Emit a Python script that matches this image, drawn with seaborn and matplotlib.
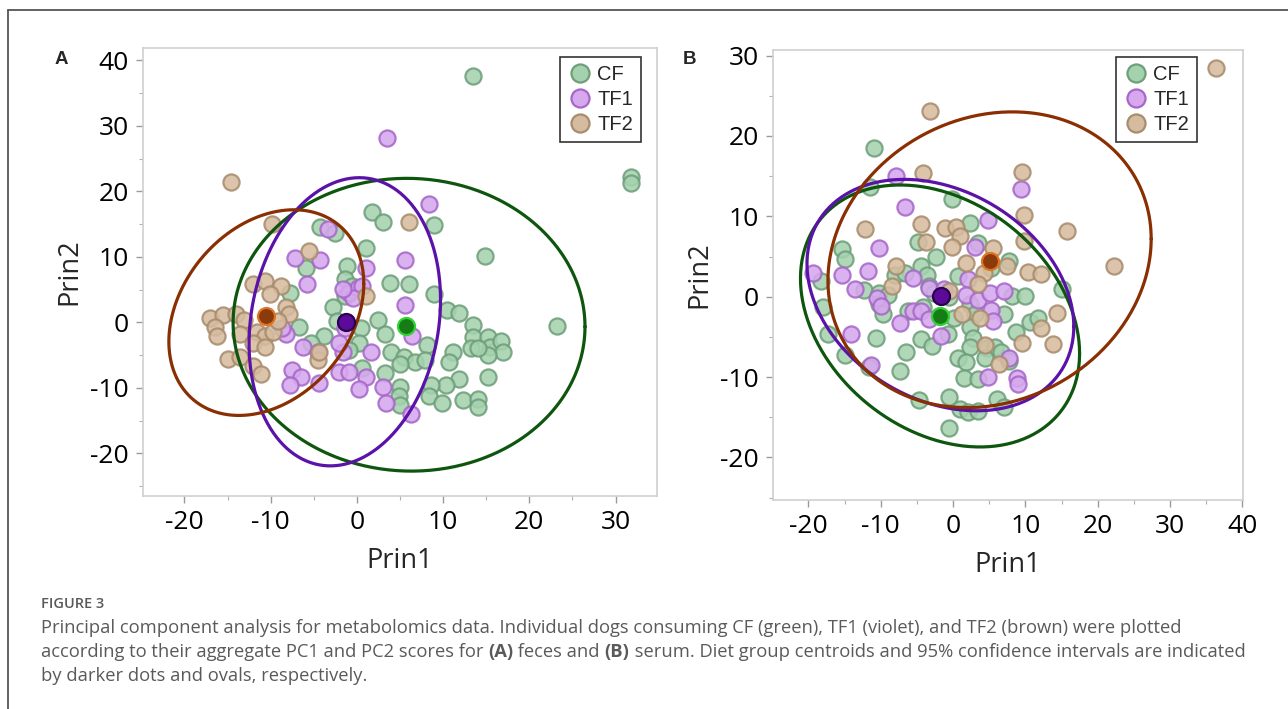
import numpy as np
import pandas as pd
import matplotlib
matplotlib.use("Agg")
import matplotlib.pyplot as plt
from matplotlib.lines import Line2D
from matplotlib.ticker import MultipleLocator
import seaborn as sns

sns.set_theme(style="white")
plt.rcParams['font.family'] = ['Open Sans', 'DejaVu Sans']

groups = ["CF", "TF1", "TF2"]

# ---------------- Panel A (feces) ----------------
a_cf_x = [13.5, 31.8, 31.8, 23.2, 14.9, 1.7, 3.0, 8.9, -4.3, -2.5, 1.1, -5.9, -1.1, -1.4, 3.8, 6.0, 8.9,
          -7.8, -2.8, 10.4, 11.8, 2.5, 13.5, -6.7, 0.5, 3.3, -3.8, -5.3, 4.0, 5.5, 6.7, 5.0, 8.1, 7.9,
          11.1, 10.7, 13.5, 13.2, 15.2, 15.4, 16.7, 16.9, 15.2, 14.1, 15.2, 11.8, 10.3, 8.6, 8.4, 9.9,
          12.3, 14.0, 14.0, 5.0, 4.9, 5.0, 3.3, 0.6, 0.3, -0.9, -1.4, -0.6, -2.3]
a_cf_y = [37.7, 22.2, 21.3, -0.5, 10.2, 16.8, 15.3, 14.8, 14.5, 13.7, 11.3, 8.3, 8.6, 6.7, 6.0, 5.9, 4.3,
          4.5, 2.3, 1.9, 1.4, 0.3, -0.4, -0.7, -0.8, -1.7, -2.0, -3.1, -4.5, -5.3, -6.1, -6.4, -3.4, -5.8,
          -4.5, -6.1, -2.3, -3.9, -2.3, -3.7, -2.8, -4.5, -5.0, -3.9, -8.4, -8.6, -9.6, -9.5, -11.2, -12.3,
          -11.8, -11.7, -12.9, -9.9, -11.3, -12.6, -7.7, -6.9, -3.1, -4.2, 4.0, 5.6, 0.2]
a_tf1_x = [3.5, 8.4, -7.2, -4.3, 5.6, 1.1, -5.8, -0.9, 0.1, 0.6, 5.6, -0.4, 6.4, -8.2, -8.7, -6.2, -4.5,
           -1.6, 1.6, -7.5, -6.5, -7.8, -4.4, -2.1, -0.9, 1.0, 0.3, 3.0, 3.4, 6.3, -1.6, -1.4, -2.1, -3.3]
a_tf1_y = [28.1, 18.1, 9.9, 9.6, 9.5, 8.3, 5.8, 4.5, 5.3, 5.6, 2.7, 3.7, -2.0, -1.7, -0.9, -3.7, -4.5,
           -4.5, -4.5, -7.2, -8.3, -9.5, -9.2, -7.5, -7.5, -8.3, -10.2, -9.9, -12.3, -14.0, 5.1, -0.9, -3.1, 14.3]
a_tf2_x = [-14.6, 6.1, -9.9, -5.6, -12.1, -10.6, -8.8, -10.1, -8.2, -7.9, 1.1, -17.0, -15.5, -14.0, -13.1,
           -16.5, -16.2, -13.6, -11.6, -10.6, -9.7, -12.1, -10.6, -15.0, -13.6, -12.1, -11.1, -4.5, -4.4, -9.2]
a_tf2_y = [21.5, 15.3, 15.0, 10.9, 5.8, 6.3, 5.6, 4.3, 2.3, 1.3, 4.0, 0.7, 1.1, 1.3, 0.4,
           -0.7, -2.0, -1.7, -1.5, -2.0, -1.5, -3.1, -3.7, -5.6, -5.3, -6.6, -7.9, -5.8, -4.5, 0.2]
a_cent_x = [5.7, -1.3, -10.5]
a_cent_y = [-0.5, 0.0, 1.0]
# 95% ellipses: centre, half-extent in x and y, covariance term
a_ell_cx = [6.05, -1.4, -10.5]
a_ell_cy = [-0.35, 0.1, 1.5]
a_ell_sx = [20.4, 11.1, 11.3]
a_ell_sy = [22.35, 22.0, 15.7]
a_ell_sxy = [-6.0, 37.0, 50.0]

# ---------------- Panel B (serum) ----------------
b_cf_x = [-11.0, -11.5, -0.2, 2.4, -15.3, -15.0, -4.9, -2.3, 3.4, 7.8, 5.3, -18.2, -12.3, -10.3, -9.0, -10.2,
          -9.7, -8.0, -6.7, -4.5, -3.6, 0.7, -3.3, -2.7, 8.1, 9.9, 15.1, -18.0, -17.3, -14.9, -11.6, -10.6,
          -6.5, -7.4, -6.2, -4.2, -1.9, 0.1, -0.7, -4.5, -2.9, 2.4, 3.0, 2.4, 2.7, 2.4, 4.7, 5.8, 6.7, 4.4,
          7.8, 0.7, 1.8, 1.5, 3.4, 7.0, 8.7, 10.6, 11.7, -4.7, -0.5, 1.0, 2.1, 3.5, 6.1, 7.0, -0.6, -0.5]
b_cf_y = [18.5, 13.7, 12.2, 9.2, 5.9, 4.7, 6.8, 4.9, 6.7, 4.4, 3.6, 1.9, 0.8, 0.5, 0.2, -0.9,
          -2.2, 2.7, 2.9, 3.8, 2.7, 2.6, 1.3, 0.4, 0.1, 0.1, 1.0, -1.3, -4.6, -7.3, -8.7, -5.1,
          -6.9, -9.3, -1.8, -1.3, -2.4, -2.7, -4.7, -5.3, -6.1, -0.9, -2.2, -3.8, -5.1, -6.2, -6.4, -6.2, -6.9, -7.6,
          -8.0, -7.6, -8.1, -10.1, -10.3, -2.2, -4.4, -3.1, -2.7, -12.8, -12.5, -14.0, -14.4, -14.2, -12.7, -13.7, -16.4, 0.0]
b_tf1_x = [-7.9, 9.4, -6.6, -10.2, 4.9, 3.0, -19.3, -15.4, -11.7, -13.6, -10.5, -10.0, -5.6, -3.3, -1.3, 2.1,
           -5.6, -4.5, -3.3, -7.3, -1.6, -14.1, -11.3, 1.8, 3.5, 5.1, 5.3, 5.5, 7.0, 7.8, 4.9, 8.8, 9.0]
b_tf1_y = [15.0, 13.4, 11.2, 6.1, 9.6, 6.2, 3.0, 2.7, 3.2, 1.0, -0.2, -1.1, 2.3, 1.1, 0.9, 2.2,
           -1.8, -1.8, -2.8, -3.3, -4.9, -4.7, -8.5, 0.2, -0.4, 0.4, -1.6, -3.0, 0.7, -7.6, -10.0, -10.1, -10.9]
b_tf2_x = [36.4, -3.2, -4.2, 9.5, 9.8, 15.7, -12.2, -4.5, -1.1, 0.4, 0.9, -0.2, -3.8, 5.5, 9.8, 1.8,
           7.4, 10.4, 12.1, 4.3, 22.3, -7.9, -8.5, 3.4, -0.5, 14.4, 12.2, 9.5, 13.8, 3.7, 4.4, 6.4, 1.3]
b_tf2_y = [28.4, 23.1, 15.4, 15.5, 10.2, 8.2, 8.4, 9.0, 8.5, 8.7, 7.6, 6.2, 6.8, 6.1, 6.9, 4.2,
           3.8, 3.1, 2.8, 3.0, 3.8, 3.8, 1.3, 1.6, 0.7, -2.0, -3.9, -5.8, -5.9, -2.7, -6.0, -8.4, -2.2]
b_cent_x = [-1.8, -1.7, 5.1]
b_cent_y = [-2.4, 0.1, 4.5]
b_ell_cx = [-1.8, -1.75, 5.05]
b_ell_cy = [-2.4, 0.2, 4.6]
b_ell_sx = [19.3, 18.45, 22.35]
b_ell_sy = [16.3, 14.4, 18.4]
b_ell_sxy = [-90.0, -72.0, 58.0]

# ---------------- styling ----------------
face_cols = {"CF": "#a5d2ae", "TF1": "#d7a8ee", "TF2": "#d6bc9f"}
edge_cols = {"CF": "#6e9f7a", "TF1": "#a668c8", "TF2": "#a88c6e"}
cent_face = {"CF": "#167d16", "TF1": "#5c0b98", "TF2": "#8b3a0b"}
cent_edge = {"CF": "#33d133", "TF1": "#2a0052", "TF2": "#e07422"}
ell_cols = {"CF": "#0e560e", "TF1": "#5a12a8", "TF2": "#8a2f02"}

W, H = 1288, 709
fig = plt.figure(figsize=(W / 100, H / 100), dpi=100)
fig.patch.set_facecolor("white")


def frac_rect(l, t, r, b):
    return [l / W, 1 - b / H, (r - l) / W, (b - t) / H]


def make_df(xs, ys):
    rows = []
    for g, (x, y) in zip(groups, zip(xs, ys)):
        for xi, yi in zip(x, y):
            rows.append((g, xi, yi))
    return pd.DataFrame(rows, columns=["group", "Prin1", "Prin2"])


def draw_panel(ax, df, cx, cy, ecx, ecy, esx, esy, esxy, xlim, ylim, xticks, yticks, leg_anchor):
    for g in groups:
        sub = df[df.group == g]
        sns.scatterplot(data=sub, x="Prin1", y="Prin2", ax=ax, color=face_cols[g],
                        edgecolor=edge_cols[g], linewidth=1.6, s=135, alpha=0.88, zorder=2, legend=False)
    t = np.linspace(0, 2 * np.pi, 400)
    for i, g in enumerate(groups):
        S = np.array([[esx[i] ** 2, esxy[i]], [esxy[i], esy[i] ** 2]])
        L = np.linalg.cholesky(S)
        pts = L @ np.vstack([np.cos(t), np.sin(t)])
        ax.plot(ecx[i] + pts[0], ecy[i] + pts[1], color=ell_cols[g], lw=2.3, zorder=3)
    for i, g in enumerate(groups):
        ax.scatter([cx[i]], [cy[i]], s=150, color=cent_face[g], edgecolor=cent_edge[g],
                   linewidth=1.6, zorder=4)
    ax.set_xlim(*xlim)
    ax.set_ylim(*ylim)
    ax.set_xticks(xticks)
    ax.set_yticks(yticks)
    ax.xaxis.set_minor_locator(MultipleLocator(5))
    ax.yaxis.set_minor_locator(MultipleLocator(5))
    ax.tick_params(axis="both", which="major", direction="out", length=5, width=1, color="#9a9a9a",
                   labelsize=19, labelcolor="black", bottom=True, left=True, pad=5)
    ax.tick_params(axis="both", which="minor", direction="out", length=3, width=0.8, color="#b0b0b0",
                   bottom=True, left=True)
    ax.set_xticklabels([f"{v:g}" for v in xticks])
    ax.set_yticklabels([f"{v:g}" for v in yticks])
    for sp in ax.spines.values():
        sp.set_color("#cfcfcf")
        sp.set_linewidth(1.2)
    ax.set_xlabel("Prin1", fontsize=19.5, labelpad=9)
    ax.set_ylabel("Prin2", fontsize=19.5, labelpad=5)
    handles = [Line2D([], [], marker="o", linestyle="", markersize=13, markerfacecolor=face_cols[g],
                      markeredgecolor=edge_cols[g], markeredgewidth=1.6, label=g) for g in groups]
    leg = ax.legend(handles=handles, loc="upper right", bbox_to_anchor=leg_anchor, frameon=True,
                    fancybox=False, edgecolor="black", fontsize=14.5, handletextpad=0.25,
                    borderpad=0.4, labelspacing=0.3, handlelength=1.2, borderaxespad=0)
    leg.get_frame().set_linewidth(1.2)
    leg.get_frame().set_facecolor("white")
    for txt in leg.get_texts():
        txt.set_family(["Liberation Sans", "DejaVu Sans"])


axA = fig.add_axes(frac_rect(143, 48, 657, 496))
dfA = make_df([a_cf_x, a_tf1_x, a_tf2_x], [a_cf_y, a_tf1_y, a_tf2_y])
draw_panel(axA, dfA, a_cent_x, a_cent_y, a_ell_cx, a_ell_cy, a_ell_sx, a_ell_sy, a_ell_sxy,
           (-24.8, 34.8), (-26.5, 41.9), [-20, -10, 0, 10, 20, 30], [-20, -10, 0, 10, 20, 30, 40],
           (0.969, 0.980))

axB = fig.add_axes(frac_rect(773, 50, 1243, 500))
dfB = make_df([b_cf_x, b_tf1_x, b_tf2_x], [b_cf_y, b_tf1_y, b_tf2_y])
draw_panel(axB, dfB, b_cent_x, b_cent_y, b_ell_cx, b_ell_cy, b_ell_sx, b_ell_sy, b_ell_sxy,
           (-24.9, 40.1), (-25.3, 30.7), [-20, -10, 0, 10, 20, 30, 40], [-20, -10, 0, 10, 20, 30],
           (0.902, 0.984))

# panel letters
fig.text(61 / W, 1 - 60 / H, "A", fontsize=13.5, fontweight="bold", ha="center", va="center",
         family=["Liberation Sans", "DejaVu Sans"])
fig.text(690 / W, 1 - 60 / H, "B", fontsize=13.5, fontweight="bold", ha="center", va="center",
         family=["Liberation Sans", "DejaVu Sans"])

# outer frame (top and left)
fig.add_artist(Line2D([8 / W, 1.0], [1 - 10 / H, 1 - 10 / H], transform=fig.transFigure,
                      color="#555555", lw=1.3))
fig.add_artist(Line2D([8 / W, 8 / W], [0.0, 1 - 10 / H], transform=fig.transFigure,
                      color="#555555", lw=1.3))

# caption
cap_col = "#5a5a5a"
fig.text(41 / W, 1 - 604 / H, "FIGURE 3", fontsize=10.5, fontweight="semibold", color=cap_col,
         ha="left", va="center")
cap_lines = [
    [("Principal component analysis for metabolomics data. Individual dogs consuming CF (green), TF1 (violet), and TF2 (brown) were plotted", "normal")],
    [("according to their aggregate PC1 and PC2 scores for ", "normal"), ("(A)", "bold"),
     (" feces and ", "normal"), ("(B)", "bold"),
     (" serum. Diet group centroids and 95% confidence intervals are indicated", "normal")],
    [("by darker dots and ovals, respectively.", "normal")],
]
cap_y = [628, 652, 676]
fig.canvas.draw()
renderer = fig.canvas.get_renderer()
for segs, yy in zip(cap_lines, cap_y):
    x = 41 / W
    for s, w in segs:
        tx = fig.text(x, 1 - yy / H, s, fontsize=13.2, fontweight=w, color=cap_col, ha="left", va="center")
        bb = tx.get_window_extent(renderer=renderer)
        x += bb.width / W

fig.savefig("out.png", dpi=100, facecolor="white")
